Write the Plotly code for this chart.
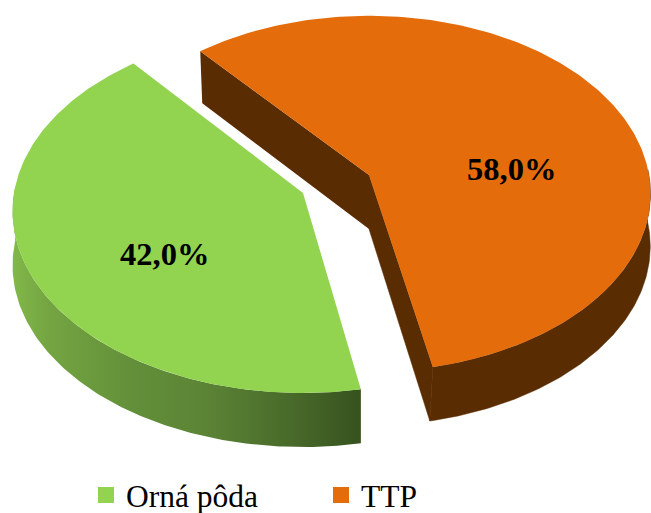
import numpy as np
import plotly.graph_objects as go

categories = ["Orná pôda", "TTP"]
shares = [42.0, 58.0]
labels = ["42,0%", "58,0%"]
top_colors = ["#92D350", "#E46C0A"]
wall_color = "#5A2C02"
green_wall_scale = [[0.0, "#82B84A"], [0.1, "#74A542"], [0.35, "#628F39"],
                    [0.55, "#5C8435"], [0.8, "#486A2A"], [1.0, "#36521E"]]

ROTATION = -40.6
DEPTH = 54
W, H = 651, 513


def project(theta_deg, apex, A, B, k):
    t = np.radians(theta_deg)
    u, v = np.sin(t), -np.cos(t)
    d = 1 - k * v
    return apex[0] + A * u / d, apex[1] + B * v / d


def poly(x, y, color, lw=0):
    return go.Scatter(x=list(x), y=list(y), mode="lines", fill="toself", fillcolor=color,
                      line=dict(width=lw, color=color), showlegend=False, hoverinfo="skip")


fig = go.Figure()

g_apex, g_A, g_B, g_k = (303, 193), 289, 180, 0.10
o_apex, o_A, o_B, o_k = (369, 175), 280, 176, 0.105

o_start = ROTATION
o_end = o_start + shares[1] * 3.6
g_start = o_end + 1.4
g_end = g_start + shares[0] * 3.6

# green outer wall: from the slice end round to the left extreme
th = np.linspace(g_start, 272, 120)
xw, yw = project(th, g_apex, g_A, g_B, g_k)
wx = np.concatenate([xw, xw[::-1]])
wy = np.concatenate([yw, (yw + DEPTH)[::-1]])
fig.add_trace(go.Scatter(x=wx, y=wy, mode="lines", fill="toself", line=dict(width=0),
                         fillgradient=dict(type="horizontal", colorscale=green_wall_scale),
                         showlegend=False, hoverinfo="skip"))
th = np.linspace(g_start, g_end, 200)
x, y = project(th, g_apex, g_A, g_B, g_k)
fig.add_trace(poly(np.r_[g_apex[0], x, g_apex[0]], np.r_[g_apex[1], y, g_apex[1]], top_colors[0]))

# orange slice walls
sx, sy = project(o_start, o_apex, o_A, o_B, o_k)
ex, ey = project(o_end, o_apex, o_A, o_B, o_k)
fig.add_trace(poly([sx, o_apex[0], o_apex[0], sx + 2, sx],
                   [sy, o_apex[1], o_apex[1] + DEPTH, sy + DEPTH - 2, sy], wall_color))
fig.add_trace(poly([o_apex[0], ex, ex - 3, o_apex[0], o_apex[0]],
                   [o_apex[1], ey, ey + DEPTH, o_apex[1] + DEPTH, o_apex[1]], wall_color, lw=0.5))
th = np.linspace(88, o_end, 120)
xw, yw = project(th, o_apex, o_A, o_B, o_k)
ramp = np.linspace(0, 3, 120)
fig.add_trace(poly(np.r_[xw, (xw - ramp)[::-1]], np.r_[yw, (yw + DEPTH)[::-1]], wall_color, lw=0.5))
th = np.linspace(o_start, o_end, 240)
x, y = project(th, o_apex, o_A, o_B, o_k)
fig.add_trace(poly(np.r_[o_apex[0], x, o_apex[0]], np.r_[o_apex[1], y, o_apex[1]], top_colors[1]))

# legend entries
for name, col in zip(categories, top_colors):
    fig.add_trace(go.Scatter(x=[None], y=[None], mode="markers", name=name,
                             marker=dict(symbol="square", size=16, color=col)))

label_pos = [(164, 254), (511.5, 169)]
for txt, (lx, ly) in zip(labels, label_pos):
    fig.add_annotation(x=lx, y=ly, text=f"<b>{txt}</b>", showarrow=False,
                       font=dict(family="Liberation Serif", size=32.5, color="black"))

fig.update_layout(
    width=W, height=H, margin=dict(l=0, r=0, t=0, b=0, autoexpand=False),
    paper_bgcolor="white", plot_bgcolor="white",
    xaxis=dict(range=[0, W], visible=False, fixedrange=True),
    yaxis=dict(range=[H, 0], visible=False, fixedrange=True),
    showlegend=True,
    legend=dict(orientation="h", x=86 / W, y=1 - 468 / H, xanchor="left", yanchor="top",
                font=dict(family="Liberation Serif", size=31.5, color="black"),
                bgcolor="rgba(0,0,0,0)", entrywidth=190, entrywidthmode="pixels", borderwidth=0),
)
fig.write_html("out.html", config=dict(displayModeBar=False),
               post_script="document.body.style.margin='0';")
